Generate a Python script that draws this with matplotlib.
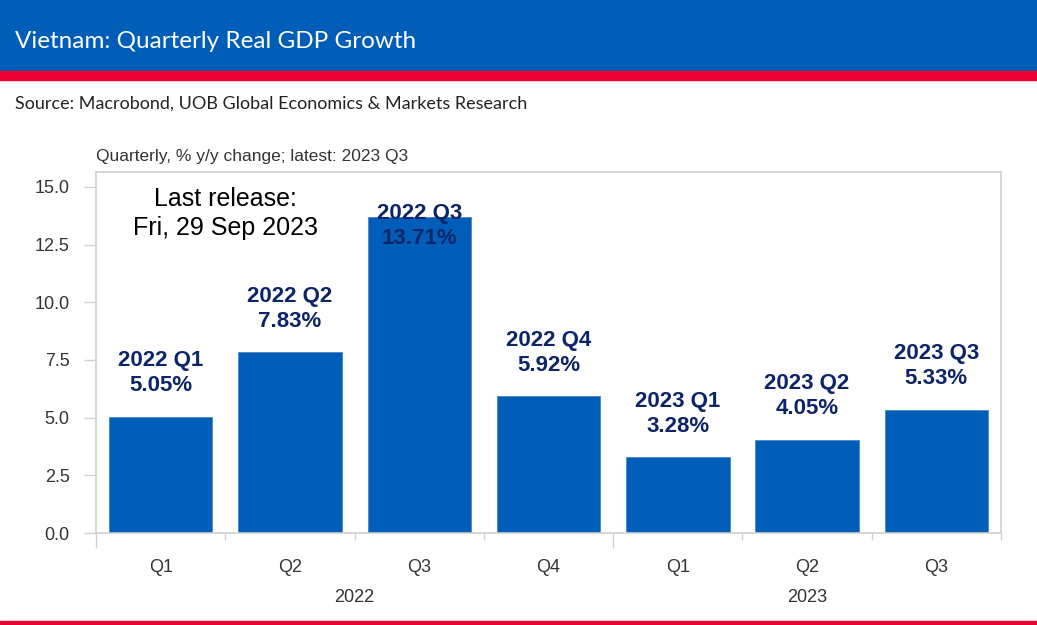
import matplotlib.pyplot as plt
from matplotlib.patches import Rectangle
from matplotlib.transforms import blended_transform_factory

quarters = ["Q1", "Q2", "Q3", "Q4", "Q1", "Q2", "Q3"]
years = ["2022", "2023"]
year_centres = [1.5, 5.0]
labels = ["2022 Q1", "2022 Q2", "2022 Q3", "2022 Q4", "2023 Q1", "2023 Q2", "2023 Q3"]
growth = [5.05, 7.83, 13.71, 5.92, 3.28, 4.05, 5.33]

blue = "#005EB8"
red = "#EE0033"
navy = "#0C2468"
grey = "#D0D0D0"

W, H = 1037, 625
fig = plt.figure(figsize=(W / 100, H / 100), dpi=100)
plt.rcParams['font.family'] = ['Liberation Sans', 'DejaVu Sans']

# header band
fig.patches.append(Rectangle((0, 1 - 71 / H), 1, 71 / H, transform=fig.transFigure, color=blue, zorder=0))
fig.patches.append(Rectangle((0, 1 - 80 / H), 1, 9 / H, transform=fig.transFigure, color=red, zorder=0))
fig.patches.append(Rectangle((0, 1 / H), 1, 3 / H, transform=fig.transFigure, color=red, zorder=0))
fig.text(15 / W, 1 - 41 / H, "Vietnam: Quarterly Real GDP Growth", color="white", fontsize=17.5,
         family=["Lato", "DejaVu Sans"], va="center", ha="left")
fig.text(15 / W, 1 - 104 / H, "Source: Macrobond, UOB Global Economics & Markets Research", color="#222222",
         fontsize=13, family=["Lato", "DejaVu Sans"], va="center", ha="left")

ax = fig.add_axes([96 / W, (H - 533) / H, 905 / W, (533 - 172) / H])
x = list(range(len(growth)))
ax.bar(x, growth, width=0.8, color=blue, edgecolor="#4A86C8", linewidth=0.6, zorder=2)
ax.set_xlim(-0.5, len(growth) - 0.5)
ax.set_ylim(0, 15.65)
ax.set_yticks([0, 2.5, 5, 7.5, 10, 12.5, 15])
ax.set_yticklabels(["%.1f" % v for v in [0, 2.5, 5, 7.5, 10, 12.5, 15]])
ax.tick_params(axis="y", length=9, width=1, color=grey, labelsize=13, labelcolor="#333333", pad=10)

bounds = [i - 0.5 for i in range(len(growth) + 1)]
ax.set_xticks([-0.5, 3.5])
ax.set_xticks([b for b in bounds if b not in (-0.5, 3.5)], minor=True)
ax.set_xticklabels([])
ax.tick_params(axis="x", which="major", length=11, width=1, color=grey)
ax.tick_params(axis="x", which="minor", length=5, width=1, color=grey)

for s in ax.spines.values():
    s.set_color(grey)
    s.set_linewidth(1.2)

tr = blended_transform_factory(ax.transData, fig.transFigure)
for i, q in enumerate(quarters):
    ax.text(i, 1 - 567 / H, q, transform=tr, ha="center", va="center", fontsize=13, color="#333333")
for c, y in zip(year_centres, years):
    ax.text(c, 1 - 598 / H, y, transform=tr, ha="center", va="center", fontsize=13, color="#333333")

ax.text(0, 1 + 8 / 361, "Quarterly, % y/y change; latest: 2023 Q3", transform=ax.transAxes,
        fontsize=12.5, color="#333333", ha="left", va="bottom")

for i, (lab, v) in enumerate(zip(labels, growth)):
    ax.text(i, min(v + 0.9, 12.3), "%s\n%.2f%%" % (lab, v), ha="center", va="bottom",
            fontsize=16, fontweight="bold", color=navy, linespacing=1.25, zorder=3)

ax.text(0.5, 13.85, "Last release:\nFri, 29 Sep 2023", ha="center", va="center", fontsize=18,
        color="black", linespacing=1.25, zorder=3)

fig.savefig("out.png", dpi=100)
